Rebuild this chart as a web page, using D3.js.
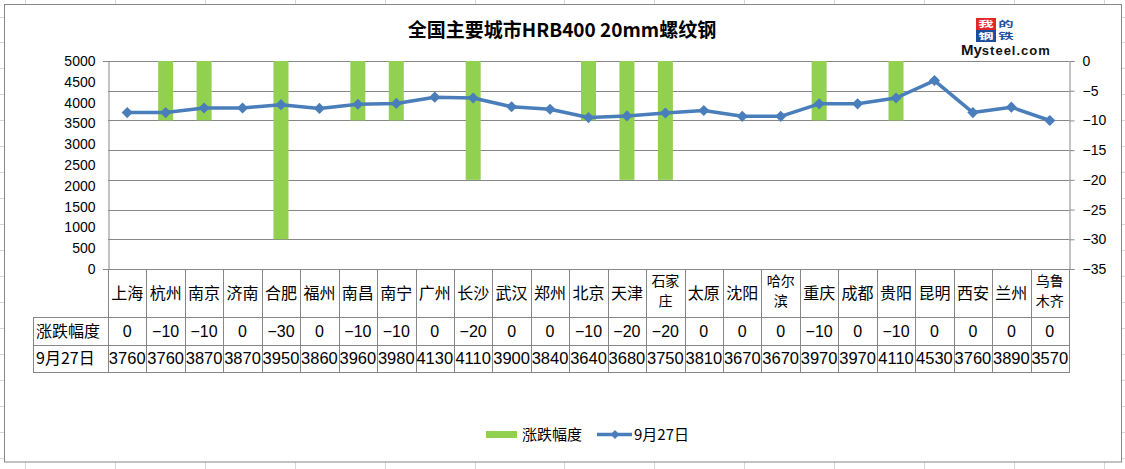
<!DOCTYPE html>
<html><head><meta charset="utf-8">
<script src="https://cdn.jsdelivr.net/npm/d3@7/dist/d3.min.js"></script>
<style>body{margin:0;background:#fff;}svg{display:block;}</style>
</head><body>
<script>
const cities = ["上海","杭州","南京","济南","合肥","福州","南昌","南宁","广州","长沙","武汉","郑州","北京","天津","石家庄","太原","沈阳","哈尔滨","重庆","成都","贵阳","昆明","西安","兰州","乌鲁木齐"];
const cityLines = [["上海"],["杭州"],["南京"],["济南"],["合肥"],["福州"],["南昌"],["南宁"],["广州"],["长沙"],["武汉"],["郑州"],["北京"],["天津"],["石家","庄"],["太原"],["沈阳"],["哈尔","滨"],["重庆"],["成都"],["贵阳"],["昆明"],["西安"],["兰州"],["乌鲁","木齐"]];
const changes = [0,-10,-10,0,-30,0,-10,-10,0,-20,0,0,-10,-20,-20,0,0,0,-10,0,-10,0,0,0,0];
const prices = [3760,3760,3870,3870,3950,3860,3960,3980,4130,4110,3900,3840,3640,3680,3750,3810,3670,3670,3970,3970,4110,4530,3760,3890,3570];
const leftTicks = [0,500,1000,1500,2000,2500,3000,3500,4000,4500,5000];
const rightTicks = [-35,-30,-25,-20,-15,-10,-5,0];
const title = "全国主要城市HRB400 20mm螺纹钢";
const seriesBar = "涨跌幅度";
const seriesLine = "9月27日";

const W = 1125, H = 469;
const CJK = "'Noto Sans CJK SC', sans-serif";
const NUM = "'Liberation Sans Narrow','Liberation Sans', sans-serif";
const GRAY = "#878787";
const svg = d3.select("body").append("svg").attr("width", W).attr("height", H);

// spreadsheet background grid
const bg = svg.append("g").attr("stroke", "#d6d6d6").attr("stroke-width", 1);
d3.range(25, W, 89.9).forEach(v => bg.append("line").attr("x1", Math.round(v)+0.5).attr("x2", Math.round(v)+0.5).attr("y1", 0).attr("y2", H));
d3.range(16.5, H, 25.95).forEach(v => bg.append("line").attr("y1", Math.round(v)+0.5).attr("y2", Math.round(v)+0.5).attr("x1", 0).attr("x2", W));

// chart area
svg.append("rect").attr("x", 4.5).attr("y", 4.5).attr("width", 1117).attr("height", 457.5)
  .attr("fill", "#fff").attr("stroke", GRAY);

const pLeft = 108, pRight = 1069, pTop = 61, pBottom = 269;
const x = d3.scaleBand().domain(cities).range([pLeft, pRight]).padding(0);
const xb = d3.scaleBand().domain(cities).range([pLeft, pRight]).paddingInner(0.61).paddingOuter(0.305);
const yL = d3.scaleLinear().domain([0, 5000]).range([pBottom, pTop]);
const yR = d3.scaleLinear().domain([-35, 0]).range([pBottom, pTop]);

// gridlines (right axis ticks)
svg.append("g").selectAll("line").data(rightTicks).join("line")
  .attr("x1", pLeft).attr("x2", pRight)
  .attr("y1", d => Math.round(yR(d))+0.5).attr("y2", d => Math.round(yR(d))+0.5)
  .attr("stroke", GRAY);
[0, 5000].forEach(v => svg.append("line").attr("x1", pLeft-5).attr("x2", pLeft)
  .attr("y1", Math.round(yL(v))+0.5).attr("y2", Math.round(yL(v))+0.5).attr("stroke", GRAY));

// left axis
const gL = svg.append("g").attr("transform", `translate(${pLeft+0.5},0)`)
  .call(d3.axisLeft(yL).tickValues(leftTicks).tickSize(0).tickPadding(13).tickFormat(d3.format("d")));
gL.select(".domain").attr("stroke", GRAY);
gL.selectAll("text").attr("font-family", "'Liberation Sans', sans-serif").attr("font-size", 14).attr("fill", "#000");

// right axis
const gR = svg.append("g").attr("transform", `translate(${pRight+0.5},0)`)
  .call(d3.axisRight(yR).tickValues(rightTicks).tickSize(5).tickPadding(8)
    .tickFormat(d => d === 0 ? "0" : "\u2212" + Math.abs(d)));
gR.select(".domain").attr("stroke", GRAY);
gR.selectAll(".tick line").attr("stroke", GRAY);
gR.selectAll("text").attr("font-family", "'Liberation Sans', sans-serif").attr("font-size", 14).attr("fill", "#000");

// bars (hang from 0 on right axis)
svg.append("g").selectAll("rect").data(cities).join("rect")
  .attr("x", d => xb(d)).attr("width", xb.bandwidth())
  .attr("y", () => yR(0)).attr("height", (d, i) => yR(changes[i]) - yR(0))
  .attr("fill", "#92D050");

// line
const line = d3.line().x((d, i) => x(cities[i]) + x.bandwidth()/2).y(d => yL(d));
svg.append("path").datum(prices).attr("d", line).attr("fill", "none")
  .attr("stroke", "#4A7EBB").attr("stroke-width", 3.5).attr("stroke-linejoin", "round");
const sym = d3.symbol(d3.symbolSquare, 62);
svg.append("g").selectAll("path").data(prices).join("path")
  .attr("d", sym)
  .attr("transform", (d, i) => `translate(${x(cities[i]) + x.bandwidth()/2},${yL(d)}) rotate(45)`)
  .attr("fill", "#4A7EBB");

// title
svg.append("text").attr("x", 562).attr("y", 37).attr("text-anchor", "middle")
  .attr("font-family", CJK).attr("font-weight", "bold").attr("font-size", 19).text(title);

// logo
const logo = svg.append("g");
const lc = [{t:"我", bg:"#E3262A", fg:"#fff", c:0, r:0},{t:"的", bg:"#fff", fg:"#1D4E9E", c:1, r:0},
            {t:"钢", bg:"#1D4E9E", fg:"#fff", c:0, r:1},{t:"铁", bg:"#fff", fg:"#1D4E9E", c:1, r:1}];
lc.forEach(o => {
  const cx = 986 + o.c*20, cy = 24 + o.r*12;
  logo.append("rect").attr("x", 976 + o.c*20).attr("y", 18 + o.r*12).attr("width", 20).attr("height", 12).attr("fill", o.bg);
  logo.append("text").attr("x", 0).attr("y", 0).attr("dy", "0.36em")
    .attr("text-anchor", "middle").attr("font-family", CJK).attr("font-weight", "bold").attr("font-size", 8.1)
    .attr("fill", o.fg).attr("transform", `translate(${cx},${cy}) scale(1.9,1)`).text(o.t);
});
const mt = logo.append("text").attr("x", 961).attr("y", 54.5).attr("font-family", "'Liberation Sans', sans-serif").attr("font-weight", "bold").attr("fill", "#111");
mt.append("tspan").attr("font-size", 15).text("My");
mt.append("tspan").attr("font-size", 13).attr("letter-spacing", 1).text("steel.com");

// data table
const r1 = 317, r2 = 345, r3 = 372, labelLeft = 33;
const tbl = svg.append("g").attr("stroke", GRAY).attr("stroke-width", 1);
[r1, r2, r3].forEach(v => tbl.append("line").attr("x1", labelLeft).attr("x2", pRight).attr("y1", v+0.5).attr("y2", v+0.5));
tbl.append("line").attr("x1", labelLeft+0.5).attr("x2", labelLeft+0.5).attr("y1", r1).attr("y2", r3+1);
cities.forEach(c => tbl.append("line").attr("x1", Math.round(x(c))+0.5).attr("x2", Math.round(x(c))+0.5).attr("y1", pBottom).attr("y2", r3+1));
tbl.append("line").attr("x1", pRight+0.5).attr("x2", pRight+0.5).attr("y1", pBottom).attr("y2", r3+1);

// category labels
cities.forEach((c, i) => {
  const lines = cityLines[i];
  const cx = x(c) + x.bandwidth()/2;
  if (lines.length === 1) {
    svg.append("text").attr("x", cx).attr("y", 293.5).attr("dy", "0.36em")
      .attr("text-anchor", "middle").attr("font-family", CJK).attr("font-size", 16).attr("fill", "#000").text(lines[0]);
  } else {
    lines.forEach((s, k) => svg.append("text").attr("x", cx).attr("y", 280.5 + k*20.5).attr("dy", "0.36em")
      .attr("text-anchor", "middle").attr("font-family", CJK).attr("font-size", 14).attr("fill", "#000").text(s));
  }
});
svg.append("text").attr("x", 36).attr("y", 331).attr("dy", "0.36em").attr("font-family", CJK).attr("font-size", 16).text(seriesBar);
svg.append("text").attr("x", 36).attr("y", 358.5).attr("dy", "0.36em").attr("font-family", CJK).attr("font-size", 16).text(seriesLine);
cities.forEach((c, i) => {
  const cx = x(c) + x.bandwidth()/2;
  svg.append("text").attr("x", cx).attr("y", 331.5).attr("dy", "0.36em").attr("text-anchor", "middle")
    .attr("font-family", NUM).attr("font-size", 16).text(changes[i] === 0 ? "0" : "\u2212" + Math.abs(changes[i]));
  svg.append("text").attr("x", cx).attr("y", 358).attr("dy", "0.36em").attr("text-anchor", "middle")
    .attr("font-family", NUM).attr("font-size", 16.5).text(prices[i]);
});

// legend
svg.append("rect").attr("x", 486).attr("y", 431).attr("width", 31).attr("height", 7).attr("fill", "#92D050");
svg.append("text").attr("x", 522).attr("y", 434.5).attr("dy", "0.36em").attr("font-family", CJK).attr("font-size", 15).text(seriesBar);
svg.append("line").attr("x1", 597).attr("x2", 632).attr("y1", 434.5).attr("y2", 434.5).attr("stroke", "#4A7EBB").attr("stroke-width", 3.5);
svg.append("path").attr("d", d3.symbol(d3.symbolSquare, 40)).attr("transform", "translate(615,434.5) rotate(45)").attr("fill", "#4A7EBB");
svg.append("text").attr("x", 634).attr("y", 434.5).attr("dy", "0.36em").attr("font-family", CJK).attr("font-size", 15).text(seriesLine);
</script>
</body></html>
